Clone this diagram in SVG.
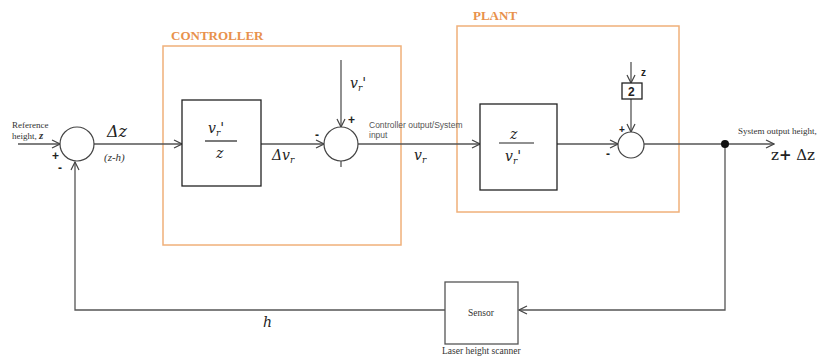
<svg xmlns="http://www.w3.org/2000/svg" width="834" height="356" viewBox="0 0 834 356">
<style>
.ln{fill:none;stroke:#555;stroke-width:1.3}
.blk{fill:#fff;stroke:#222;stroke-width:1.3}
.sum{fill:#fff;stroke:#444;stroke-width:1.2}
.grp{fill:none;stroke:#f0b07a;stroke-width:1.5}
.ttl{font-family:"Liberation Serif",serif;font-weight:bold;font-size:13px;fill:#e8914c}
.sm{font-family:"Liberation Serif",serif;font-size:9px;fill:#333}
.cs{font-family:"Liberation Sans",sans-serif;font-size:8.5px;fill:#555}
.mt{font-family:"DejaVu Serif",serif;font-style:italic;font-size:14px;fill:#222}
.sg{font-family:"Liberation Sans",sans-serif;font-weight:bold;font-size:12px;fill:#222}
.sub{font-size:9px}
</style>
<defs>
<marker id="ar" markerWidth="10" markerHeight="10" refX="9" refY="5" orient="auto" markerUnits="userSpaceOnUse">
<path d="M1,1 L9,5 L1,9" fill="none" stroke="#444" stroke-width="1.2"/>
</marker>
</defs>
<rect width="834" height="356" fill="#fff"/>

<g id="controller-group">
<rect class="grp" x="163" y="46" width="238" height="199"/>
<text class="ttl" x="171" y="40">CONTROLLER</text>
</g>
<g id="plant-group">
<rect class="grp" x="457" y="26" width="222" height="186"/>
<text class="ttl" x="473" y="20">PLANT</text>
</g>

<g id="connectors">
<path class="ln" d="M18,144 L60,144" marker-end="url(#ar)"/>
<path class="ln" d="M94,144 L182,144" marker-end="url(#ar)"/>
<path class="ln" d="M261,144 L324,144" marker-end="url(#ar)"/>
<path class="ln" d="M341,60 L341,127" marker-end="url(#ar)"/>
<path class="ln" d="M341,161 L341,167"/>
<path class="ln" d="M358,144 L480,144" marker-end="url(#ar)"/>
<path class="ln" d="M557,144 L618,144" marker-end="url(#ar)"/>
<path class="ln" d="M631,62 L631,83" marker-end="url(#ar)"/>
<path class="ln" d="M631,99 L631,132" marker-end="url(#ar)"/>
<path class="ln" d="M644,144 L774,144" marker-end="url(#ar)"/>
<path class="ln" d="M725,144 L725,310 L519,310" marker-end="url(#ar)"/>
<path class="ln" d="M445,310 L75,310 L75,162" marker-end="url(#ar)"/>
<circle cx="725" cy="144" r="4" fill="#111"/>
</g>

<g id="sum1">
<circle class="sum" cx="77" cy="144" r="17"/>
<text class="sg" x="52" y="160">+</text>
<text class="sg" x="58" y="172">-</text>
</g>
<text class="sm" x="12" y="128">Reference</text>
<text class="sm" x="12" y="139">height, <tspan style="font-weight:bold;font-style:italic;font-size:11px">z</tspan></text>
<text class="mt" x="107" y="137" style="font-size:16px">Δz</text>
<text class="sm" x="104" y="161" style="font-style:italic;font-size:11px">(z-h)</text>

<g id="block1">
<rect class="blk" x="182" y="100" width="79" height="86"/>
<text class="mt" x="208" y="133">v<tspan class="sub" dy="3">r</tspan><tspan dy="-3">'</tspan></text>
<line x1="205" y1="141" x2="237" y2="141" stroke="#222" stroke-width="1.2"/>
<text class="mt" x="216" y="158">z</text>
</g>
<text class="mt" x="272" y="160">Δv<tspan class="sub" dy="3">r</tspan></text>

<g id="sum2">
<circle class="sum" cx="341" cy="144" r="17"/>
<text class="sg" x="315" y="139">-</text>
<text class="sg" x="348" y="124">+</text>
</g>
<text class="mt" x="350" y="88">v<tspan class="sub" dy="3">r</tspan><tspan dy="-3">'</tspan></text>
<text class="cs" x="369" y="128">Controller output/System</text>
<text class="cs" x="369" y="138">input</text>
<text class="mt" x="414" y="160">v<tspan class="sub" dy="3">r</tspan></text>

<g id="block2">
<rect class="blk" x="480" y="104" width="77" height="86"/>
<text class="mt" x="510" y="139">z</text>
<line x1="499" y1="143" x2="534" y2="143" stroke="#222" stroke-width="1.2"/>
<text class="mt" x="505" y="161">v<tspan class="sub" dy="3">r</tspan><tspan dy="-3">'</tspan></text>
</g>

<g id="gain2">
<rect class="blk" x="622" y="83" width="20" height="16"/>
<text class="sg" x="628" y="96">2</text>
</g>
<text class="sg" x="641" y="76" style="font-size:10px">z</text>

<g id="sum3">
<circle class="sum" cx="631" cy="145" r="13"/>
<text class="sg" x="619" y="133" style="font-size:10px">+</text>
<text class="sg" x="606" y="158">-</text>
</g>

<text class="sm" x="738" y="134">System output height,</text>
<text class="mt" x="771" y="160" style="font-size:15px;font-style:normal">z<tspan style="font-weight:bold">+</tspan> Δz</text>

<g id="sensor">
<rect class="ln" x="445" y="282" width="73" height="62"/>
<text class="sm" x="481" y="316" text-anchor="middle" style="font-size:9.5px">Sensor</text>
</g>
<text class="sm" x="442" y="354" style="font-size:9.5px">Laser height scanner</text>
<text class="mt" x="263" y="327">h</text>
</svg>
